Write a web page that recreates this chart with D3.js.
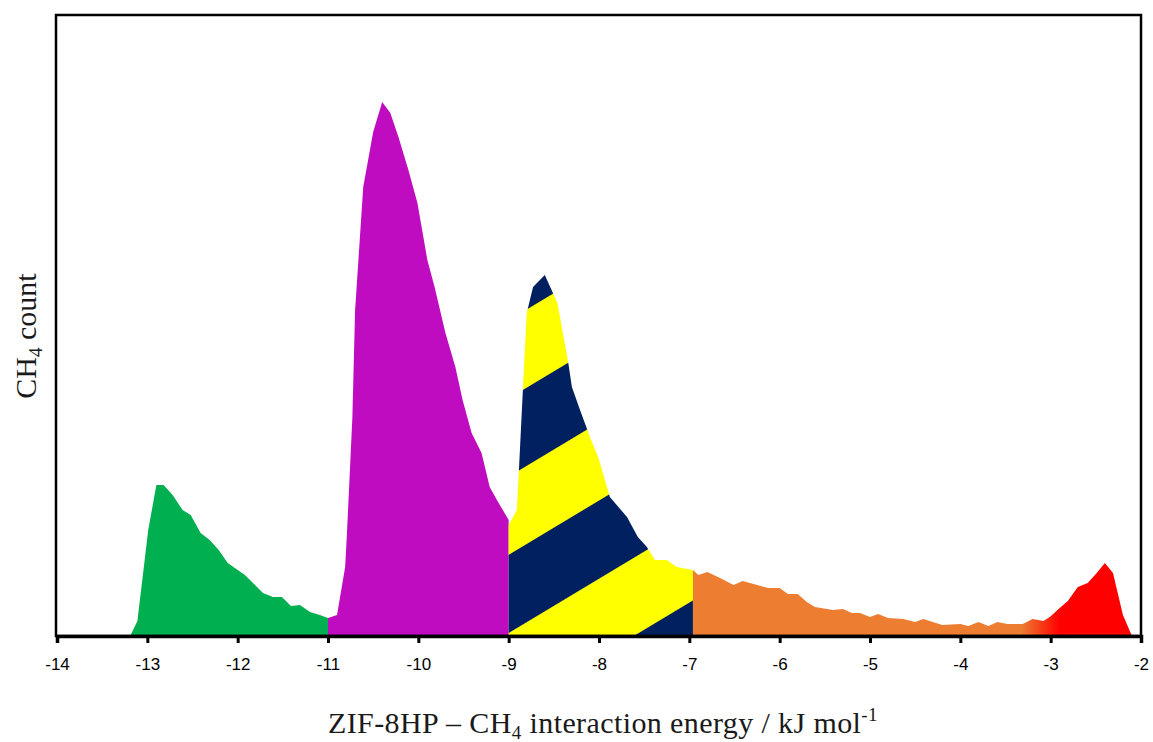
<!DOCTYPE html>
<html>
<head>
<meta charset="utf-8">
<script src="https://cdn.jsdelivr.net/npm/d3@7"></script>
<style>
  body { margin: 0; background: #fff; }
  svg { display: block; }
</style>
</head>
<body>
<svg id="chart"></svg>
<script>
// energies (kJ/mol) and CH4 counts, one array pair per region
const greenE  = [-13.19, -13.11, -12.99, -12.90, -12.82, -12.72, -12.61, -12.52, -12.41, -12.31, -12.21, -12.11, -11.92, -11.72, -11.61, -11.51, -11.41, -11.31, -11.20, -11.09, -11.00];
const greenC  = [0, 15, 106, 151, 151, 141, 126, 121, 103, 96, 86, 73, 61, 43, 39, 39, 30, 31, 24, 21, 18];

const magentaE = [-11.00, -10.90, -10.81, -10.79, -10.73, -10.70, -10.61, -10.50, -10.40, -10.31, -10.22, -10.11, -10.01, -9.90, -9.82, -9.76, -9.70, -9.59, -9.51, -9.41, -9.30, -9.21, -9.13, -9.00];
const magentaC = [18, 21, 69, 103, 219, 326, 449, 504, 534, 523, 499, 466, 433, 376, 349, 326, 303, 269, 236, 203, 183, 149, 136, 116];

const stripeE = [-9.00, -8.91, -8.89, -8.85, -8.80, -8.73, -8.60, -8.46, -8.34, -8.30, -8.21, -8.10, -8.01, -7.88, -7.69, -7.57, -7.47, -7.38, -7.25, -7.14, -6.96];
const stripeC = [111, 126, 159, 233, 323, 349, 361, 333, 273, 249, 226, 199, 179, 139, 119, 99, 89, 76, 76, 69, 66];

const orangeE = [-6.96, -6.90, -6.80, -6.66, -6.51, -6.41, -6.25, -6.13, -6.00, -5.91, -5.80, -5.70, -5.61, -5.41, -5.30, -5.20, -5.11, -5.00, -4.91, -4.80, -4.63, -4.50, -4.41, -4.20, -4.00, -3.91, -3.80, -3.69, -3.59, -3.48, -3.31, -3.20, -3.08, -3.01, -2.90, -2.81, -2.70, -2.59, -2.49, -2.40, -2.31, -2.20, -2.10];
const orangeC = [66, 61, 64, 58, 51, 55, 51, 48, 48, 42, 42, 34, 29, 26, 27, 23, 23, 19, 22, 18, 17, 14, 17, 11, 12, 10, 14, 10, 14, 12, 12, 17, 15, 19, 28, 35, 49, 53, 63, 73, 63, 21, 0];

const xTicks = [-14, -13, -12, -11, -10, -9, -8, -7, -6, -5, -4, -3, -2];

const W = 1153, H = 742;
const margin = { left: 57, right: 12, top: 15, bottom: 106 };

const svg = d3.select('#chart').attr('width', W).attr('height', H);

const x = d3.scaleLinear().domain([-14, -2]).range([margin.left, W - margin.right]);
const y = d3.scaleLinear().domain([0, 621]).range([H - margin.bottom, margin.top]);

const defs = svg.append('defs');

// diagonal navy / yellow stripes
const pat = defs.append('pattern')
  .attr('id', 'stripes')
  .attr('patternUnits', 'userSpaceOnUse')
  .attr('width', 20).attr('height', 134)
  .attr('patternTransform', 'translate(' + x(-9) + ',' + y(3) + ') rotate(-31)');
pat.append('rect').attr('x', 0).attr('y', 0).attr('width', 20).attr('height', 67).attr('fill', '#ffff00');
pat.append('rect').attr('x', 0).attr('y', 67).attr('width', 20).attr('height', 67).attr('fill', '#002060');

// orange fading into red
const grad = defs.append('linearGradient')
  .attr('id', 'orangeRed')
  .attr('gradientUnits', 'userSpaceOnUse')
  .attr('x1', x(-3.32)).attr('x2', x(-2.9)).attr('y1', 0).attr('y2', 0);
grad.append('stop').attr('offset', 0).attr('stop-color', '#ed7d31');
grad.append('stop').attr('offset', 1).attr('stop-color', '#ff0000');

const area = d3.area()
  .x(d => x(d[0]))
  .y0(y(0))
  .y1(d => y(d[1]));

const series = [
  { e: greenE, c: greenC, fill: '#00b050' },
  { e: magentaE, c: magentaC, fill: '#c00cc0' },
  { e: stripeE, c: stripeC, fill: 'url(#stripes)' },
  { e: orangeE, c: orangeC, fill: 'url(#orangeRed)' }
];

svg.selectAll('.area')
  .data(series)
  .enter().append('path')
  .attr('class', 'area')
  .attr('d', s => area(s.e.map((v, i) => [v, s.c[i]])))
  .attr('fill', s => s.fill);

// frame
svg.append('rect')
  .attr('x', x(-14) - 1).attr('y', y(621))
  .attr('width', x(-2) - x(-14) + 1).attr('height', y(0) - y(621))
  .attr('fill', 'none')
  .attr('stroke', '#000')
  .attr('stroke-width', 2.5);

// x axis
const xAxis = svg.append('g')
  .attr('transform', 'translate(0,' + y(0) + ')')
  .call(d3.axisBottom(x).tickValues(xTicks).tickSize(7).tickPadding(15).tickFormat(d => String(d)));
xAxis.select('.domain').attr('stroke', '#000').attr('stroke-width', 3.5);
xAxis.selectAll('.tick line').attr('stroke', '#000').attr('stroke-width', 3);
xAxis.selectAll('.tick text')
  .attr('font-family', 'Liberation Sans, Arial, sans-serif')
  .attr('font-size', 17)
  .attr('fill', '#000');

// axis titles
const xt = svg.append('text')
  .attr('x', 603).attr('y', 733)
  .attr('text-anchor', 'middle')
  .attr('font-family', 'Liberation Serif, Times New Roman, serif')
  .attr('font-size', 30)
  .attr('letter-spacing', 0.4)
  .attr('fill', '#1a1a1a');
xt.append('tspan').text('ZIF-8HP \u2013 CH');
xt.append('tspan').attr('font-size', 19).attr('dy', 6).text('4');
xt.append('tspan').attr('dy', -6).text(' interaction energy / kJ mol');
xt.append('tspan').attr('font-size', 19).attr('dy', -12).text('-1');

const yt = svg.append('text')
  .attr('transform', 'translate(36,336) rotate(-90)')
  .attr('text-anchor', 'middle')
  .attr('font-family', 'Liberation Serif, Times New Roman, serif')
  .attr('font-size', 30)
  .attr('fill', '#1a1a1a');
yt.append('tspan').text('CH');
yt.append('tspan').attr('font-size', 19).attr('dy', 6).text('4');
yt.append('tspan').attr('dy', -6).text(' count');
</script>
</body>
</html>
